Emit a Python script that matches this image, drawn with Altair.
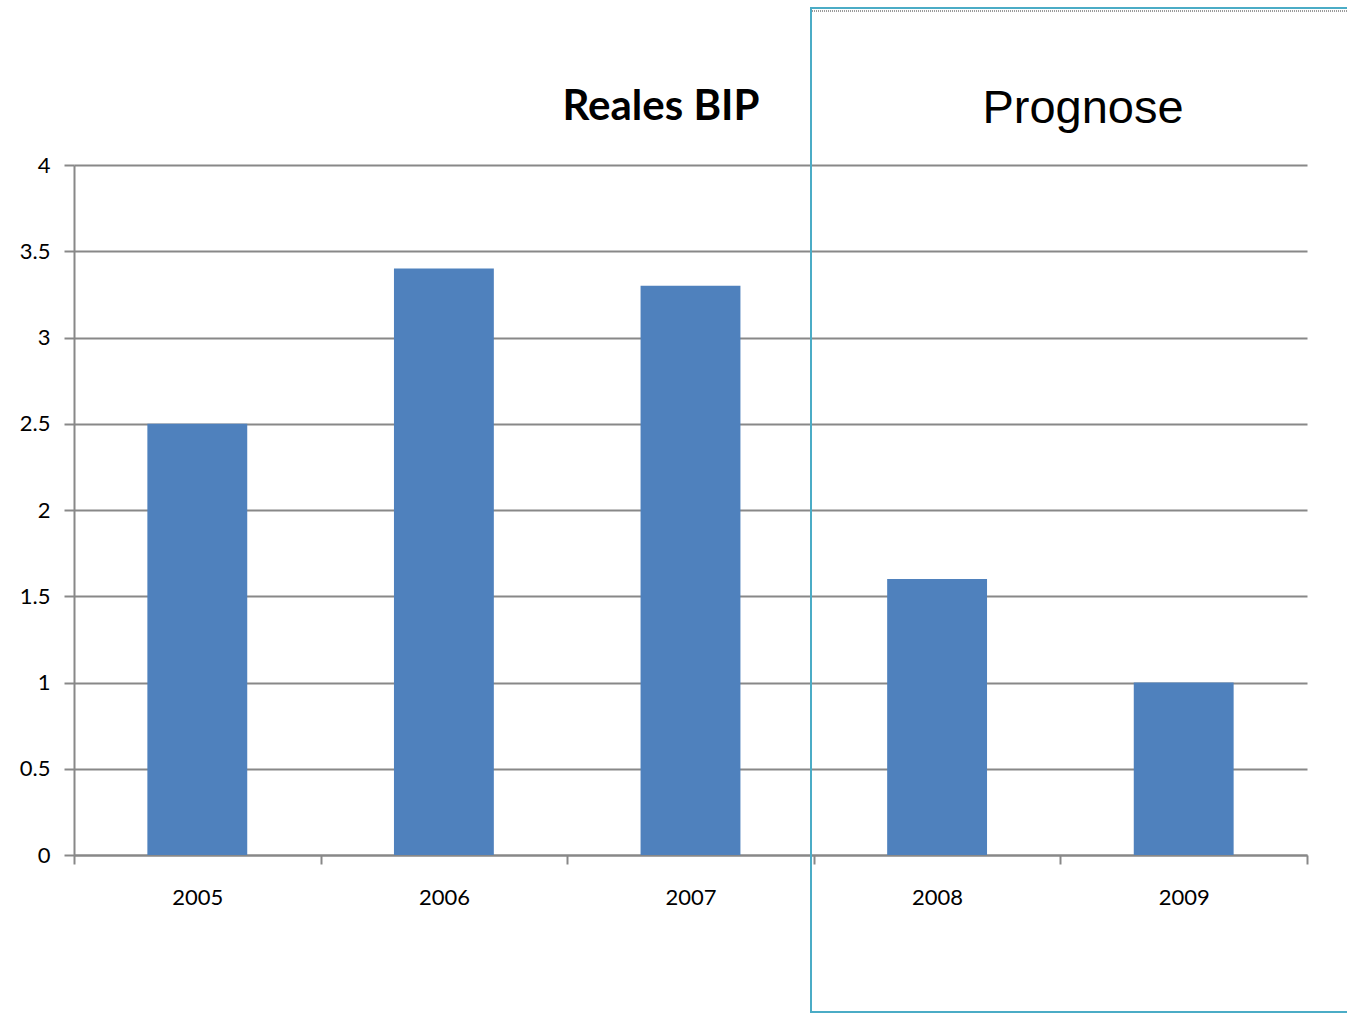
import altair as alt
import pandas as pd

years = ["2005", "2006", "2007", "2008", "2009"]
values = [2.5, 3.4, 3.3, 1.6, 1.0]
y_ticks = [0, 0.5, 1, 1.5, 2, 2.5, 3, 3.5, 4]
title_left = "Reales BIP"
title_right = "Prognose"

BAR = "#4F81BD"
GRID = "#888888"
BOX = "#4BACC6"

df = pd.DataFrame({"year": years, "value": values})

W, H = 1233, 690

bars = alt.Chart(df).mark_bar(color=BAR, width=alt.RelativeBandSize(0.405)).encode(
    x=alt.X("year:N", sort=years, title=None,
            scale=alt.Scale(paddingInner=0, paddingOuter=0),
            axis=alt.Axis(labelAngle=0, labelFont="Lato", labelFontSize=22,
                          labelColor="#000000", labelPadding=23,
                          tickBand="extent", tickSize=9, tickColor=GRID,
                          tickWidth=2, domainColor=GRID, domainWidth=2,
                          grid=False)),
    y=alt.Y("value:Q", title=None,
            scale=alt.Scale(domain=[0, 4], nice=False),
            axis=alt.Axis(values=y_ticks, format="~g", labelFont="Lato",
                          labelFontSize=22,
                          labelColor="#000000", labelPadding=14,
                          tickSize=10, tickColor=GRID, tickWidth=2,
                          domainColor=GRID, domainWidth=2,
                          gridColor=GRID, gridWidth=1.8)),
)

box = alt.Chart(pd.DataFrame({"k": [0]})).mark_rect(
    fill=None, stroke=BOX, strokeWidth=2
).encode(
    x=alt.value(737), x2=alt.value(1320),
    y=alt.value(-157), y2=alt.value(847),
)

dots = alt.Chart(pd.DataFrame({"k": [0]})).mark_rule(
    color="#9a9a9a", strokeWidth=2, strokeDash=[1, 1]
).encode(
    x=alt.value(738), x2=alt.value(1320), y=alt.value(-154),
)

t1 = alt.Chart(pd.DataFrame({"t": [title_left]})).mark_text(
    font="Lato", fontWeight="bold", fontSize=42, color="#000000",
    align="center", baseline="middle"
).encode(text="t:N", x=alt.value(587), y=alt.value(-58))

t2 = alt.Chart(pd.DataFrame({"t": [title_right]})).mark_text(
    font="Liberation Sans", fontSize=47, color="#000000",
    align="center", baseline="middle"
).encode(text="t:N", x=alt.value(1009), y=alt.value(-56))

chart = alt.layer(bars, box, dots, t1, t2).properties(
    width=W, height=H,
    autosize=alt.AutoSizeParams(type="none"),
    padding={"left": 74, "top": 165, "right": 40, "bottom": 158},
    background="white",
).configure_view(stroke=None)

chart.save("out.html", embed_options={"renderer": "svg", "actions": False})
